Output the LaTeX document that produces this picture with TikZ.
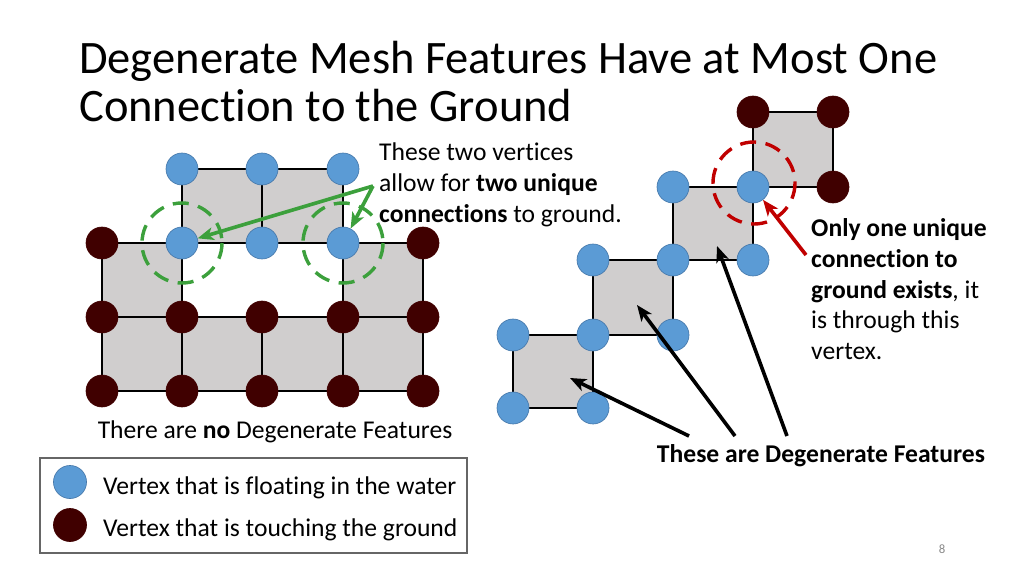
\documentclass[tikz,border=0pt]{standalone}
\usepackage{fontspec}
\setmainfont{Carlito}[Ligatures=NoCommon]
\usetikzlibrary{arrows.meta}
\definecolor{floatblue}{RGB}{91,155,213}
\definecolor{floatrim}{RGB}{70,120,170}
\definecolor{grounddark}{RGB}{64,0,0}
\definecolor{meshgrey}{RGB}{208,206,206}
\definecolor{ringgreen}{RGB}{60,160,60}
\definecolor{ringred}{RGB}{192,0,0}
\definecolor{pagegrey}{RGB}{137,137,137}

\tikzset{
  floatv/.style={circle, fill=floatblue, draw=floatrim, line width=0.6pt, minimum size=30pt, inner sep=0pt},
  groundv/.style={circle, fill=grounddark, draw=grounddark, line width=0.6pt, minimum size=30pt, inner sep=0pt},
  face/.style={fill=meshgrey},
  meshedge/.style={line width=2.6pt},
  ring/.style={line width=3.2pt, dash pattern=on 15pt off 9pt},
  pointer/.style={line width=3.4pt, -{Stealth[length=15pt, width=12pt, inset=4pt]}},
  txt/.style={font=\fontsize{24}{29}\selectfont, inner sep=0pt, align=left},
}

\begin{document}
\begin{tikzpicture}[x=0.9375pt, y=-0.9375pt]
    \useasboundingbox (0,0) rectangle (1024,576);

    % title
    \node[anchor=north west, inner sep=0pt, align=left, font=\fontsize{43.6}{45.4}\selectfont] (title) at (79,41)
      {Degenerate Mesh Features Have at Most One\\Connection to the Ground};

    % left mesh: no degenerate features
    \foreach \c/\x in {1/102,2/182,3/262,4/343,5/423}
      \foreach \r/\y in {1/169,2/243,3/317,4/391}
        \coordinate (p\c\r) at (\x,\y);
    \fill[face] (p21) rectangle (p42);
    \fill[face] (p12) rectangle (p23);
    \fill[face] (p42) rectangle (p53);
    \fill[face] (p13) rectangle (p54);
    \draw[meshedge] (p21) -- (p41);
    \draw[meshedge] (p12) -- (p52);
    \draw[meshedge] (p13) -- (p53);
    \draw[meshedge] (p14) -- (p54);
    \draw[meshedge] (p12) -- (p14);
    \draw[meshedge] (p21) -- (p24);
    \draw[meshedge] (p31) -- (p32);
    \draw[meshedge] (p33) -- (p34);
    \draw[meshedge] (p41) -- (p44);
    \draw[meshedge] (p52) -- (p54);
    \draw[ring, ringgreen] (p22) circle (40);
    \draw[ring, ringgreen] (p42) circle (40);
    \foreach \v in {21,31,41,22,32,42}
      \node[floatv] (v\v) at (p\v) {};
    \foreach \v in {12,52,13,23,33,43,53,14,24,34,44,54}
      \node[groundv] (v\v) at (p\v) {};

    \node[txt, anchor=north west] (twotxt) at (379,143)
      {These two vertices\\allow for \textbf{two unique}\\\textbf{connections} to ground.};
    \coordinate (gsrc) at (373,186);
    \draw[pointer, ringgreen] (gsrc) -- (v22);
    \draw[pointer, ringgreen] (gsrc) -- (v42);

    \node[txt] (nonetxt) at (275,432) {There are \textbf{no} Degenerate Features};

    % right mesh: staircase of degenerate features
    \coordinate (q41) at (753,112);
    \coordinate (q51) at (833,112);
    \coordinate (q32) at (673,187);
    \coordinate (q42) at (753,187);
    \coordinate (q52) at (833,187);
    \coordinate (q23) at (593,260);
    \coordinate (q33) at (673,260);
    \coordinate (q43) at (753,260);
    \coordinate (q14) at (513,335);
    \coordinate (q24) at (593,335);
    \coordinate (q34) at (673,335);
    \coordinate (q15) at (513,408);
    \coordinate (q25) at (593,408);
    \draw[face, meshedge] (q41) rectangle (q52);
    \draw[face, meshedge] (q32) rectangle (q43);
    \draw[face, meshedge] (q23) rectangle (q34);
    \draw[face, meshedge] (q14) rectangle (q25);
    \draw[ring, ringred] (q42) ++(1,-4) circle (41);
    \foreach \v in {42,32,23,33,43,14,24,34,15,25}
      \node[floatv] (w\v) at (q\v) {};
    \foreach \v in {41,51,52}
      \node[groundv] (w\v) at (q\v) {};

    \node[txt, anchor=north west] (onetxt) at (811,218)
      {\textbf{Only one unique}\\\textbf{connection to}\\\textbf{ground exists}, it\\is through this\\vertex.};
    \coordinate (rsrc) at (806,255);
    \draw[pointer, ringred] (rsrc) -- (w42);

    \node[txt, font=\fontsize{24}{29}\selectfont\bfseries] (degtxt) at (821,456) {These are Degenerate Features};
    \coordinate (s1) at (689,436);
    \coordinate (s2) at (735,436);
    \coordinate (s3) at (787,436);
    \coordinate (t1) at (570,378);
    \coordinate (t2) at (637,305);
    \coordinate (t3) at (717,246);
    \draw[pointer] (s1) -- (t1);
    \draw[pointer] (s2) -- (t2);
    \draw[pointer] (s3) -- (t3);

    % legend
    \draw[line width=1pt, black!60] (40,458) rectangle (467,553);
    \node[floatv, minimum size=31pt] (keyfloat) at (70,482) {};
    \node[groundv, minimum size=31pt] (keyground) at (70,525) {};
    \node[txt, anchor=west] (floattxt) at (103,488) {Vertex that is floating in the water};
    \node[txt, anchor=west] (groundtxt) at (103,530) {Vertex that is touching the ground};

    \node[font=\fontsize{12}{14}\selectfont, text=pagegrey] (pagenum) at (942,549) {8};
  \end{tikzpicture}
\end{document}
